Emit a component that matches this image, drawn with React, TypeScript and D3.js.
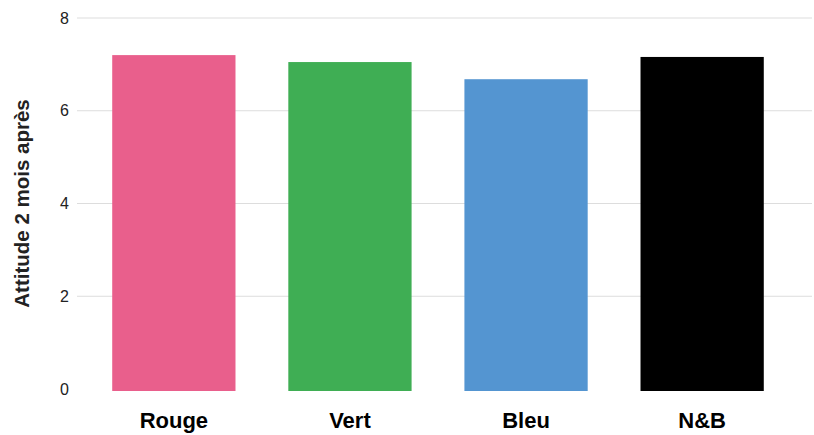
import * as d3 from "d3";

const width = 814;
const height = 435;
const marginTop = 18;
const marginBottom = 46;
const marginLeft = 77;
const gridRight = 812;

const categories = ["Rouge", "Vert", "Bleu", "N&B"];
const values = [7.2, 7.05, 6.68, 7.16];
const colors = ["#E95F8C", "#3FAE54", "#5495D1", "#000000"];
const yTicks = [0, 2, 4, 6, 8];

const font = "'Liberation Sans', Arial, Helvetica, sans-serif";

const App = () => {
  const x = d3
    .scaleBand<string>()
    .domain(categories)
    .range([marginLeft, 799])
    .paddingInner(0.3)
    .paddingOuter(0.2);

  const y = d3
    .scaleLinear()
    .domain([0, 8])
    .range([height - marginBottom, marginTop]);

  return (
    <svg
      width={width}
      height={height}
      viewBox={`0 0 ${width} ${height}`}
      style={{ position: "absolute", left: 0, top: 0, background: "#fff" }}
      fontFamily={font}
    >
      {yTicks.map((t) => (
        <g key={t}>
          {t > 0 && (
            <line
              x1={marginLeft}
              x2={gridRight}
              y1={y(t)}
              y2={y(t)}
              stroke="#dddddd"
              strokeWidth={1}
            />
          )}
          <text
            x={69}
            y={y(t)}
            dy="0.35em"
            textAnchor="end"
            fontSize={16}
            fill="#222"
          >
            {t}
          </text>
        </g>
      ))}

      {categories.map((c, i) => (
        <rect
          key={c}
          x={x(c)}
          y={y(values[i])}
          width={x.bandwidth()}
          height={y(0) - y(values[i]) + 2}
          fill={colors[i]}
        />
      ))}

      {categories.map((c) => (
        <text
          key={c}
          x={(x(c) as number) + x.bandwidth() / 2}
          y={428}
          textAnchor="middle"
          fontSize={22}
          fontWeight="bold"
          fill="#000"
        >
          {c}
        </text>
      ))}

      <text
        transform={`translate(29, ${(y(0) + y(8)) / 2}) rotate(-90)`}
        textAnchor="middle"
        fontSize={20.5}
        fontWeight="bold"
        fill="#222"
      >
        Attitude 2 mois après
      </text>
    </svg>
  );
};

export default App;
